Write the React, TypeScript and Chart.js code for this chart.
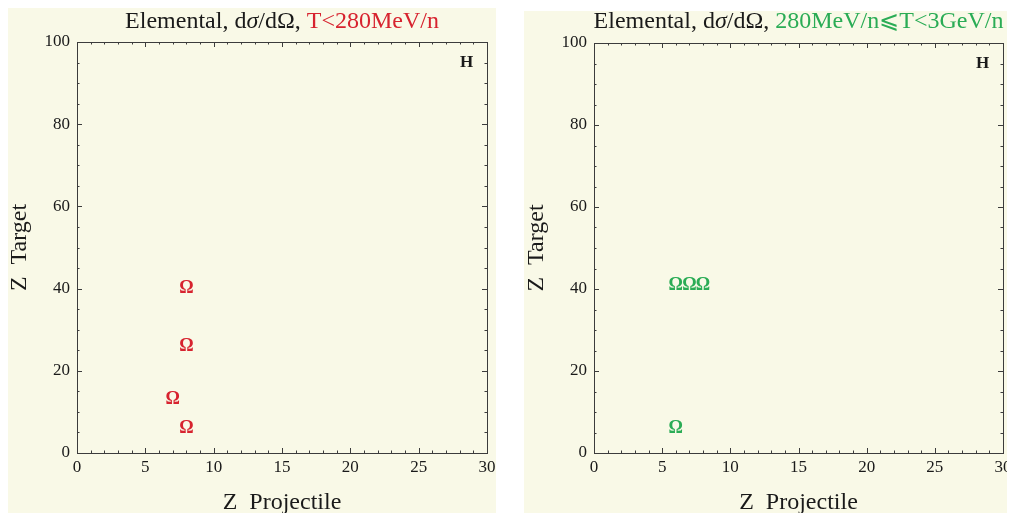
import { useEffect, useRef } from "react";
import { Chart, registerables } from "chart.js";

Chart.register(...registerables);

// ---- data ----
const LOW_PROJ = [8, 8, 7, 8];
const LOW_TARG = [40, 26, 13, 6];
const MID_PROJ = [6, 7, 8, 6];
const MID_TARG = [41, 41, 41, 6];
const H_PROJ = [28.5];
const H_TARG = [95];
const X_RANGE = [0, 30];
const Y_RANGE = [0, 100];
const X_STEP = 5;
const Y_STEP = 20;
const X_MINOR = 1;
const Y_MINOR = 5;
const TITLE_BASE = "Elemental, d";
const TITLE_SIGMA = "σ";
const TITLE_REST = "/dΩ, ";
const LOW_RANGE = "T<280MeV/n";
const MID_RANGE = "280MeV/n⩽T<3GeV/n";
const X_TITLE = "Z  Projectile";
const Y_TITLE = "Z  Target";

const RED = "#d7232f";
const GREEN = "#2aac55";
const BG = "#f9f9e7";
const SERIF = "'Liberation Serif', 'DejaVu Serif', serif";

type PanelCfg = {
  left: number;
  top: number;
  width: number;
  height: number;
  yAxisWidth: number;
  padTop: number;
  padRight: number;
  xs: number[];
  ys: number[];
  color: string;
  range: string;
  titleY: number;
  yTitleX: number;
};

const framePlugin = {
  id: "framePlugin",
  afterDraw(chart: any, _args: any, opts: any) {
    const { ctx, chartArea: a } = chart;
    const x = chart.scales.x;
    const y = chart.scales.y;
    ctx.save();
    // frame
    ctx.strokeStyle = "#3c3c3c";
    ctx.lineWidth = 1;
    ctx.strokeRect(Math.round(a.left) + 0.5, Math.round(a.top) + 0.5, Math.round(a.right - a.left), Math.round(a.bottom - a.top));
    ctx.beginPath();
    for (let v = X_RANGE[0]; v <= X_RANGE[1]; v += X_MINOR) {
      const px = Math.round(x.getPixelForValue(v)) + 0.5;
      const len = v % X_STEP === 0 ? 5 : 2.5;
      ctx.moveTo(px, a.bottom);
      ctx.lineTo(px, a.bottom - len);
      ctx.moveTo(px, a.top);
      ctx.lineTo(px, a.top + len);
    }
    for (let v = Y_RANGE[0]; v <= Y_RANGE[1]; v += Y_MINOR) {
      const py = Math.round(y.getPixelForValue(v)) + 0.5;
      const len = v % Y_STEP === 0 ? 5 : 2.5;
      ctx.moveTo(a.left, py);
      ctx.lineTo(a.left + len, py);
      ctx.moveTo(a.right, py);
      ctx.lineTo(a.right - len, py);
    }
    ctx.stroke();

    // glyph markers
    ctx.textAlign = "center";
    ctx.textBaseline = "middle";
    chart.data.datasets.forEach((ds: any, i: number) => {
      const meta = chart.getDatasetMeta(i);
      ctx.fillStyle = ds.glyphColor;
      ctx.font = `${ds.glyphWeight} ${ds.glyphSize}px ${SERIF}`;
      meta.data.forEach((el: any) => {
        ctx.fillText(ds.glyph, el.x, el.y);
      });
    });

    // title (mixed colours)
    const segs = [
      { t: TITLE_BASE, c: "#1a1a1a", it: false },
      { t: TITLE_SIGMA, c: "#1a1a1a", it: true },
      { t: TITLE_REST, c: "#1a1a1a", it: false },
      { t: opts.range, c: opts.color, it: false },
    ];
    const fs = 24;
    let total = 0;
    segs.forEach((s) => {
      ctx.font = `${s.it ? "italic " : ""}${fs}px ${SERIF}`;
      total += ctx.measureText(s.t).width;
    });
    let cx = (a.left + a.right) / 2 - total / 2;
    ctx.textAlign = "left";
    ctx.textBaseline = "alphabetic";
    segs.forEach((s) => {
      ctx.font = `${s.it ? "italic " : ""}${fs}px ${SERIF}`;
      ctx.fillStyle = s.c;
      ctx.fillText(s.t, cx, opts.titleY);
      cx += ctx.measureText(s.t).width;
    });

    // axis titles
    ctx.fillStyle = "#1a1a1a";
    ctx.font = `24px ${SERIF}`;
    ctx.textAlign = "center";
    ctx.textBaseline = "middle";
    ctx.fillText(X_TITLE, (a.left + a.right) / 2, chart.height - 10);
    ctx.save();
    ctx.translate(opts.yTitleX, (a.top + a.bottom) / 2);
    ctx.rotate(-Math.PI / 2);
    ctx.fillText(Y_TITLE, 0, 0);
    ctx.restore();
    ctx.restore();
  },
};

function Panel({ cfg }: { cfg: PanelCfg }) {
  const ref = useRef<HTMLCanvasElement | null>(null);
  useEffect(() => {
    if (!ref.current) return;
    const chart = new Chart(ref.current, {
      type: "scatter",
      data: {
        datasets: [
          {
            label: "Ω",
            data: cfg.xs.map((v, i) => ({ x: v, y: cfg.ys[i] })),
            pointRadius: 0,
            glyph: "Ω",
            glyphColor: cfg.color,
            glyphSize: 18,
            glyphWeight: "bold",
          } as any,
          {
            label: "H",
            data: H_PROJ.map((v, i) => ({ x: v, y: H_TARG[i] })),
            pointRadius: 0,
            glyph: "H",
            glyphColor: "#1a1a1a",
            glyphSize: 17,
            glyphWeight: "bold",
          } as any,
        ],
      },
      options: {
        animation: false,
        responsive: false,
        events: [],
        layout: { padding: { top: cfg.padTop, right: cfg.padRight, left: 0, bottom: 0 } },
        plugins: {
          legend: { display: false },
          tooltip: { enabled: false },
          title: { display: false },
          framePlugin: { range: cfg.range, color: cfg.color, titleY: cfg.titleY, yTitleX: cfg.yTitleX },
        } as any,
        scales: {
          x: {
            type: "linear",
            min: X_RANGE[0],
            max: X_RANGE[1],
            grid: { display: false, drawTicks: false },
            border: { display: false },
            ticks: {
              stepSize: X_STEP,
              padding: 4,
              maxRotation: 0,
              color: "#1a1a1a",
              font: { family: SERIF, size: 17 },
            },
            afterFit(s: any) {
              s.height = 60;
              s.paddingLeft = 0;
              s.paddingRight = 0;
            },
          },
          y: {
            type: "linear",
            min: Y_RANGE[0],
            max: Y_RANGE[1],
            grid: { display: false, drawTicks: false },
            border: { display: false },
            ticks: {
              stepSize: Y_STEP,
              padding: 7,
              color: "#1a1a1a",
              font: { family: SERIF, size: 17 },
            },
            afterFit(s: any) {
              s.width = cfg.yAxisWidth;
              s.paddingTop = 0;
              s.paddingBottom = 0;
            },
          },
        },
      },
      plugins: [framePlugin],
    });
    return () => chart.destroy();
  }, [cfg]);
  return (
    <canvas
      ref={ref}
      width={cfg.width}
      height={cfg.height}
      style={{
        position: "absolute",
        left: cfg.left,
        top: cfg.top,
        width: cfg.width,
        height: cfg.height,
        background: BG,
      }}
    />
  );
}

const LEFT: PanelCfg = {
  left: 8,
  top: 8,
  width: 488,
  height: 505,
  yAxisWidth: 69,
  padTop: 34,
  padRight: 9,
  xs: LOW_PROJ,
  ys: LOW_TARG,
  color: RED,
  range: LOW_RANGE,
  titleY: 20,
  yTitleX: 12,
};

const RIGHT: PanelCfg = {
  left: 524,
  top: 11,
  width: 483,
  height: 502,
  yAxisWidth: 70,
  padTop: 32,
  padRight: 4,
  xs: MID_PROJ,
  ys: MID_TARG,
  color: GREEN,
  range: MID_RANGE,
  titleY: 17,
  yTitleX: 13,
};

export default function App() {
  return (
    <div style={{ position: "absolute", left: 0, top: 0, width: 1013, height: 513, background: "#fff", overflow: "hidden" }}>
      <Panel cfg={LEFT} />
      <Panel cfg={RIGHT} />
    </div>
  );
}
